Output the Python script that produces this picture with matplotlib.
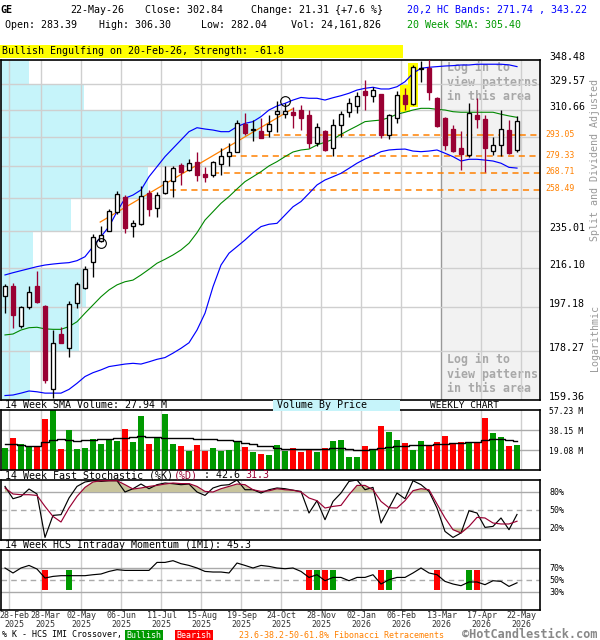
import matplotlib
matplotlib.use("Agg")
import matplotlib.pyplot as plt
from matplotlib import transforms
from matplotlib.patches import Rectangle
from matplotlib.ticker import NullLocator
import numpy as np

# weekly candles, 28-Feb-2025 .. 22-May-2026
opens = [202.6, 207.2, 189.1, 197.3, 207.2, 197.9, 163.3, 185.5, 179.5, 199.4,
         206.1, 219.1, 229.9, 235.3, 245.8, 254.4, 237.8, 238.9, 256.4, 247.7,
         256.4, 263.6, 273.7, 270.5, 275.8, 268.1, 267.5, 274.3, 279.6, 282.2,
         300.6, 296.4, 296.0, 296.2, 307.8, 307.8, 309.2, 310.6, 307.1, 287.7,
         296.0, 284.8, 300.1, 309.4, 313.5, 324.5, 320.8, 322.0, 293.3, 304.7,
         321.5, 314.7, 341.5, 342.4, 319.5, 304.7, 297.3, 284.4, 280.1, 307.1,
         304.2, 282.8, 286.6, 296.4, 283.39]
highs = [208.1, 208.8, 197.9, 207.2, 214.6, 198.5, 187.2, 188.7, 200.3, 209.2,
         216.9, 233.5, 237.8, 247.3, 257.8, 255.4, 241.1, 260.8, 258.4, 257.4,
         273.1, 273.1, 274.8, 277.5, 282.2, 272.6, 276.2, 284.4, 287.7, 303.5,
         308.3, 303.5, 304.7, 307.1, 317.3, 315.9, 312.8, 314.2, 310.6, 301.2,
         296.6, 304.0, 309.9, 319.1, 324.0, 332.8, 327.7, 322.5, 307.6, 324.5,
         327.0, 344.5, 347.7, 352.0, 320.0, 305.9, 300.1, 296.0, 315.4, 319.5,
         307.1, 292.1, 310.6, 303.5, 306.30]
lows = [194.8, 188.0, 188.0, 196.4, 199.4, 165.6, 160.1, 181.7, 176.1, 196.8,
        205.6, 211.4, 229.2, 235.0, 244.5, 233.9, 232.1, 238.5, 243.4, 243.0,
        256.0, 254.4, 261.4, 270.2, 264.0, 263.4, 266.4, 267.5, 273.1, 281.8,
        293.3, 289.4, 291.2, 292.1, 295.5, 304.7, 297.8, 296.6, 284.4, 286.1,
        282.6, 279.6, 292.1, 305.9, 308.3, 310.6, 316.2, 291.0, 290.6, 301.2,
        310.6, 314.2, 331.5, 317.8, 298.9, 283.3, 281.8, 270.5, 279.0, 297.8,
        269.1, 280.1, 279.6, 280.7, 282.04]
closes = [207.2, 193.8, 197.5, 204.2, 199.7, 166.9, 181.6, 181.8, 198.8, 208.1,
          215.4, 232.1, 232.8, 246.2, 255.8, 236.6, 239.3, 254.8, 247.2, 255.4,
          263.8, 272.0, 269.5, 275.1, 267.5, 266.4, 275.6, 279.4, 282.0, 301.2,
          294.8, 297.1, 291.4, 300.8, 310.1, 310.1, 307.1, 304.7, 287.7, 298.5,
          283.3, 300.1, 307.6, 315.4, 320.8, 321.5, 325.2, 293.3, 307.1, 321.5,
          314.7, 343.2, 342.2, 323.5, 299.6, 286.6, 282.6, 280.7, 308.3, 304.0,
          284.8, 286.6, 297.1, 281.53, 302.84]

upper_band = [212.5, 213.6, 214.6, 215.6, 216.6, 217.4, 217.9, 218.3, 218.6, 219.6,
              221.6, 226.8, 232.1, 237.5, 245.8, 253.5, 255.4, 258.4, 266.4, 272.6,
              279.0, 284.4, 289.9, 295.5, 298.2, 297.3, 296.6, 295.5, 295.5, 298.9,
              301.2, 302.4, 305.9, 310.6, 313.5, 315.4, 317.8, 319.7, 319.1, 319.1,
              317.8, 319.5, 321.0, 322.8, 325.2, 326.5, 327.3, 326.0, 326.0, 327.7,
              331.5, 338.0, 341.9, 342.7, 343.2, 343.7, 344.0, 344.5, 344.5, 345.1,
              345.1, 345.1, 345.1, 344.6, 343.22]
sma20 = [185.1, 185.5, 187.2, 188.2, 188.4, 187.7, 187.5, 187.5, 188.7, 190.8,
         194.6, 198.3, 202.1, 205.3, 207.7, 209.2, 210.0, 212.5, 215.3, 218.3,
         220.3, 222.5, 225.1, 228.6, 234.2, 241.1, 245.8, 250.6, 254.5, 259.0,
         263.4, 266.4, 269.5, 273.1, 275.8, 279.0, 282.0, 283.3, 283.9, 286.6,
         288.4, 290.3, 293.7, 296.6, 299.4, 302.4, 303.0, 303.5, 305.2, 307.6,
         309.0, 310.6, 311.8, 311.8, 311.1, 310.6, 309.4, 309.0, 309.0, 309.0,
         309.0, 309.0, 307.6, 306.4, 305.40]
lower_band = [161.0, 161.2, 161.9, 162.7, 162.4, 161.9, 161.9, 161.9, 163.3, 165.6,
              168.2, 169.7, 170.8, 172.1, 172.6, 173.1, 173.4, 173.1, 174.0, 175.0,
              175.7, 177.5, 179.5, 181.8, 187.2, 194.6, 206.8, 217.4, 223.4, 226.8,
              230.3, 234.2, 237.5, 238.8, 239.3, 243.9, 248.6, 251.6, 256.4, 261.4,
              264.4, 266.4, 268.5, 271.6, 274.8, 277.5, 279.6, 282.2, 283.3, 283.7,
              283.9, 282.6, 282.2, 282.6, 283.3, 281.2, 279.0, 276.2, 277.3, 277.3,
              276.8, 276.2, 274.8, 272.2, 271.74]

# volume in millions
volumes = [21.3, 30.8, 24.5, 23.2, 22.3, 48.3, 57.2, 20.3, 38.2, 20.3,
           21.3, 29.9, 25.1, 29.3, 28.0, 39.4, 26.7, 51.8, 25.1, 30.8,
           53.4, 25.1, 23.2, 18.4, 23.9, 18.4, 21.3, 18.4, 19.4, 28.0,
           22.3, 17.5, 15.6, 14.3, 24.1, 18.4, 21.0, 16.9, 19.7, 16.9,
           20.7, 27.7, 28.6, 12.4, 12.4, 22.9, 19.1, 42.0, 36.3, 28.6,
           25.8, 19.1, 27.7, 22.9, 26.7, 32.4, 25.8, 26.4, 25.8, 26.7,
           49.6, 35.0, 31.5, 22.9, 24.161826]
vol_sma = [24.5, 24.8, 23.9, 22.9, 22.9, 26.4, 28.6, 29.3, 28.6, 28.0,
           28.6, 28.6, 29.3, 29.9, 30.2, 30.2, 31.5, 32.1, 31.8, 31.2,
           30.8, 30.8, 30.8, 30.2, 29.9, 29.9, 29.6, 28.9, 28.3, 27.7,
           26.0, 24.5, 23.2, 22.9, 21.3, 20.0, 20.0, 19.7, 19.7, 20.0,
           20.0, 20.7, 20.7, 19.7, 19.1, 19.1, 19.7, 21.3, 22.2, 22.9,
           23.2, 23.9, 23.9, 23.9, 24.5, 24.8, 25.5, 26.0, 27.0, 27.0,
           28.6, 29.3, 29.3, 28.6, 27.94]

stoch_k = [89.3, 68.8, 72.7, 85.0, 76.7, 4.3, 41.0, 42.2, 70.0, 89.3,
           96.7, 98.8, 97.7, 98.8, 98.8, 80.0, 85.5, 93.3, 85.5, 92.2,
           95.0, 93.8, 92.2, 93.3, 80.0, 74.3, 86.7, 91.0, 92.2, 100.0,
           83.8, 83.8, 78.3, 83.8, 86.7, 85.5, 83.0, 81.0, 45.0, 65.5,
           33.8, 64.3, 78.3, 97.7, 100.0, 83.8, 87.7, 28.3, 53.3, 78.3,
           68.8, 98.8, 92.2, 81.0, 53.3, 14.3, 4.3, 11.7, 48.8, 45.0,
           21.0, 22.7, 36.7, 17.2, 42.6]
stoch_d = [86.7, 76.7, 75.5, 75.5, 74.3, 56.0, 39.3, 30.0, 53.3, 72.7,
           87.7, 96.7, 98.8, 98.8, 98.8, 92.2, 85.0, 86.7, 89.3, 91.0,
           93.3, 95.0, 94.0, 94.0, 89.3, 81.0, 80.0, 85.5, 89.3, 93.3,
           92.2, 83.8, 81.0, 82.0, 85.5, 83.8, 83.0, 80.0, 70.0, 65.5,
           53.3, 56.0, 57.7, 75.5, 91.0, 91.0, 83.8, 64.3, 53.8, 53.3,
           65.5, 82.2, 85.5, 83.8, 60.0, 36.7, 17.2, 11.7, 22.7, 37.7,
           36.7, 28.3, 26.7, 26.7, 31.3]
imi = [70.0, 61.7, 70.0, 74.3, 68.3, 53.3, 56.0, 57.2, 57.2, 57.2,
       57.2, 58.8, 60.0, 64.3, 67.2, 66.0, 66.0, 66.0, 66.0, 79.3,
       79.3, 82.2, 77.2, 74.3, 70.0, 64.3, 63.3, 63.3, 61.7, 78.3,
       74.3, 70.0, 74.3, 72.7, 70.0, 68.8, 70.0, 64.3, 54.3, 58.8,
       48.8, 54.3, 54.3, 48.8, 54.3, 54.3, 58.8, 43.3, 50.5, 54.3,
       54.3, 61.7, 70.0, 61.7, 58.8, 47.7, 43.3, 40.5, 46.7, 46.7,
       42.2, 48.8, 47.7, 39.3, 45.3]
imi_bull = [8, 39, 41, 48, 58]
imi_bear = [5, 38, 40, 47, 54, 59]

price_grid = [159.36, 178.27, 197.18, 216.10, 235.01, 253.92, 272.83, 291.74, 310.66, 329.57, 348.48]
vbp_pct = [2.9, 7.8, 8.5, 3.2, 7.0, 14.7, 18.9, 26.0, 8.3, 2.8]   # volume by price, bottom to top
fib_levels = [293.05, 279.33, 268.71, 258.49]
fib_start = [32.25, 28.1, 26.0, 20.6]
trend_idx = [11.9, 35.9]
trend_px = [240.0, 311.3]
circle_idx = [12, 35]
circle_px = [228.6, 317.1]
pattern_idx = [50, 51]
vol_grid = [19.08, 38.15, 57.23]

tick_idx = [0, 4, 9, 14, 19, 24, 29, 34, 39, 44, 49, 54, 59, 64]
tick_day = ['28-Feb', '28-Mar', '02-May', '06-Jun', '11-Jul', '15-Aug', '19-Sep',
            '24-Oct', '28-Nov', '02-Jan', '06-Feb', '13-Mar', '17-Apr', '22-May']
tick_year = ['2025', '2025', '2025', '2025', '2025', '2025', '2025',
             '2025', '2025', '2026', '2026', '2026', '2026', '2026']

RED = '#990033'
ORANGE = '#ff8000'
GRID = '#cfcfcf'
W, H = 600, 640

plt.rcParams['font.family'] = ['DejaVu Sans Mono', 'DejaVu Sans']
fig = plt.figure(figsize=(6, 6.4), dpi=100)


def box(x0, y0, x1, y1):
    return [x0 / W, 1 - y1 / H, (x1 - x0) / W, (y1 - y0) / H]


def ftext(x, y, s, **kw):
    kw.setdefault('va', 'center')
    kw.setdefault('fontsize', 7.2)
    return fig.text(x / W, 1 - y / H, s, **kw)


n = len(closes)
xs = np.arange(n)
XL = (-0.5625, 66.875)
grid_x = [i + 0.45 for i in tick_idx]
up = [c >= o for o, c in zip(opens, closes)]

ax_p = fig.add_axes(box(0.5, 60, 540, 400))
ax_v = fig.add_axes(box(0.5, 410, 540, 470))
ax_s = fig.add_axes(box(0.5, 480, 540, 540))
ax_i = fig.add_axes(box(0.5, 550, 540, 610))

for ax in (ax_p, ax_v, ax_s, ax_i):
    ax.set_xlim(*XL)
    ax.tick_params(which='both', left=False, bottom=False, labelleft=False, labelbottom=False)
    for sp in ax.spines.values():
        sp.set_linewidth(1.2)
    for gx in grid_x:
        if ax is ax_p and gx == 54.45:
            continue
        ax.axvline(gx, color=GRID, lw=1, zorder=1)

# ---- price panel ----
ax_p.set_yscale('log')
ax_p.set_ylim(price_grid[0], price_grid[-1])
ax_p.yaxis.set_major_locator(NullLocator())
ax_p.yaxis.set_minor_locator(NullLocator())
ax_p.axvspan(54.45, XL[1], color='#f2f2f2', lw=0, zorder=0.2)
ax_p.axvline(54.45, color='#999999', lw=1, zorder=1)
for v in price_grid[1:-1]:
    ax_p.axhline(v, color=GRID, lw=1, zorder=1)

tv = transforms.blended_transform_factory(ax_p.transAxes, ax_p.transData)
for lo, hi, pct in zip(price_grid[:-1], price_grid[1:], vbp_pct):
    ax_p.add_patch(Rectangle((0, lo), pct / max(vbp_pct) * 0.483, hi - lo,
                             transform=tv, facecolor='#c6f4fa', lw=0, zorder=0.5))

for s, yy in (('Log in to', 67), ('view patterns', 82), ('in this area', 97),
              ('Log in to', 359), ('view patterns', 374), ('in this area', 389)):
    ax_p.text(447 / W, 1 - yy / H, s, transform=fig.transFigure, color='#a8a8a8',
              fontsize=8.4, fontweight='bold', va='center', zorder=0.8)

for i in pattern_idx:
    lo, hi = lows[i] / 1.005, highs[i] * 1.005
    ax_p.add_patch(Rectangle((i - 0.65, lo), 1.3, hi - lo, facecolor='#ffff00', lw=0, zorder=2))

for lvl, st in zip(fib_levels, fib_start):
    ax_p.plot([st, XL[1]], [lvl, lvl], color=ORANGE, lw=1.1, dashes=(4, 3), zorder=2.5)
ax_p.plot(trend_idx, trend_px, color=ORANGE, lw=0.9, zorder=2.6)

ax_p.plot(xs, upper_band, color='#0000ff', lw=0.85, zorder=2.7)
ax_p.plot(xs, lower_band, color='#0000ff', lw=0.85, zorder=2.7)
ax_p.plot(xs, sma20, color='#008800', lw=0.8, zorder=2.7)

for i in range(n):
    col = 'black' if up[i] else RED
    ax_p.vlines(i, lows[i], highs[i], color=col, lw=0.95, zorder=3)
    b0, b1 = min(opens[i], closes[i]), max(opens[i], closes[i])
    ax_p.add_patch(Rectangle((i - 0.31, b0), 0.62, b1 - b0,
                             facecolor='white' if up[i] else RED, edgecolor=col,
                             lw=0.95, zorder=4))
ax_p.plot(circle_idx, circle_px, 'o', mfc='none', mec='black', ms=7, mew=0.8, zorder=5)

# price labels on the right
tp = transforms.offset_copy(transforms.blended_transform_factory(fig.transFigure, ax_p.transData),
                            fig=fig, y=3, units='dots')
for v in price_grid:
    if any(abs(v / f - 1) < 0.04 for f in fib_levels):
        continue
    ax_p.text(549 / W, v, f'{v:.2f}', transform=tp, fontsize=7.2, va='center', clip_on=False)
tf = transforms.offset_copy(transforms.blended_transform_factory(fig.transFigure, ax_p.transData),
                            fig=fig, y=1, units='dots')
for f in fib_levels:
    ax_p.text(545 / W, f, f'{f:.2f}', transform=tf, fontsize=5.9, color=ORANGE,
              va='center', clip_on=False)
ftext(595, 160, 'Split and Dividend Adjusted', rotation=90, ha='center', color='#999999')
ftext(595, 338, 'Logarithmic', rotation=90, ha='center', color='#999999')

# ---- volume panel ----
ax_v.set_ylim(0, vol_grid[-1])
for v in vol_grid[:-1]:
    ax_v.axhline(v, color='#aaaaaa', lw=1, zorder=1)
ax_v.bar(xs, volumes, width=0.75, color=['#009900' if u else '#ff0000' for u in up], zorder=2)
ax_v.plot(xs, vol_sma, color='black', lw=1, drawstyle='steps-mid', zorder=3)
for v in vol_grid:
    ftext(549, 470 - v / vol_grid[-1] * 60 + 1.5, f'{v:.2f} M', fontsize=5.8)

# ---- stochastic panel ----
ax_s.set_ylim(0, 100)
ax_s.axhline(80, color='#aaaaaa', lw=1, zorder=1)
ax_s.axhline(20, color='#aaaaaa', lw=1, zorder=1)
ax_s.axhline(50, color='#aaaaaa', lw=1, dashes=(4, 3), zorder=1)
d = np.array(stoch_d)
ax_s.fill_between(xs, d, 80, where=d > 80, interpolate=True, color='#c8c49c', lw=0, zorder=1.5)
ax_s.fill_between(xs, d, 20, where=d < 20, interpolate=True, color='#c8c49c', lw=0, zorder=1.5)
ax_s.plot(xs, stoch_k, color='black', lw=0.85, zorder=3)
ax_s.plot(xs, stoch_d, color=RED, lw=0.85, zorder=3)
for v in (80, 50, 20):
    ftext(549, 540.3 - 0.6 * v, f'{v}%', fontsize=6)

# ---- IMI panel ----
ax_i.set_ylim(0, 100)
ax_i.axhline(70, color='#aaaaaa', lw=1, zorder=1)
ax_i.axhline(30, color='#aaaaaa', lw=1, zorder=1)
ax_i.axhline(50, color='#aaaaaa', lw=1, dashes=(4, 3), zorder=1)
for i in imi_bull:
    ax_i.add_patch(Rectangle((i - 0.36, 33), 0.72, 34, facecolor='#009900', lw=0, zorder=2))
for i in imi_bear:
    ax_i.add_patch(Rectangle((i - 0.36, 33), 0.72, 34, facecolor='#ff0000', lw=0, zorder=2))
ax_i.plot(xs, imi, color='black', lw=0.85, zorder=3)
for v in (70, 50, 30):
    ftext(549, 610.3 - 0.6 * v, f'{v}%', fontsize=6)

# ---- date labels ----
prev = -100
for i, dd, yy in zip(tick_idx, tick_day, tick_year):
    cx = max(5 + 8 * (i + 0.6), 14.5, prev + 31)
    prev = cx
    ftext(cx, 616, dd, ha='center', fontsize=6, color='#333333')
    ftext(cx, 624.5, yy, ha='center', fontsize=6, color='#333333')

# ---- header ----
chg = closes[-1] - closes[-2]
ftext(0, 10, 'GE', fontweight='bold')
ftext(70, 10, '22-May-26')
ftext(145, 10, f'Close: {closes[-1]:.2f}')
ftext(251, 10, f'Change: {chg:.2f} {{{chg / closes[-2] * 100:+.1f} %}}')
ftext(407, 10, f'20,2 HC Bands: {lower_band[-1]:.2f} , {upper_band[-1]:.2f}', color='#0000ff')
ftext(5, 25, f'Open: {opens[-1]:.2f}')
ftext(99, 25, f'High: {highs[-1]:.2f}')
ftext(201, 25, f'Low: {lows[-1]:.2f}')
ftext(291, 25, f'Vol: {round(volumes[-1] * 1e6):,}')
ftext(407, 25, f'20 Week SMA: {sma20[-1]:.2f}', color='#009900')

fig.patches.append(Rectangle((0, 1 - 57.5 / H), 403 / W, 12.5 / H, transform=fig.transFigure,
                             facecolor='#ffff00', lw=0))
ftext(2, 51.5, 'Bullish Engulfing on 20-Feb-26, Strength: -61.8')

# ---- panel headers ----
ftext(5, 405.5, f'14 Week SMA Volume: {vol_sma[-1]:.2f} M')
fig.patches.append(Rectangle((273 / W, 1 - 410.5 / H), 127 / W, 10.5 / H, transform=fig.transFigure,
                             facecolor='#c6f4fa', lw=0))
ftext(277, 405.5, 'Volume By Price')
ftext(430, 405.5, 'WEEKLY CHART', fontsize=6.8)

parts = [('14 Week Fast Stochastic (%K)', 'black'), ('(%D)', RED),
         (f' : {stoch_k[-1]:.1f} ', 'black'), (f'{stoch_d[-1]:.1f}', RED)]
x0 = 5
for s, c in parts:
    ftext(x0, 475.5, s, color=c)
    x0 += 6.02 * len(s)
ftext(5, 545.5, f'14 Week HCS Intraday Momentum (IMI): {imi[-1]:.1f}')

# ---- footer ----
ftext(2, 635, '% K - HCS IMI Crossover,', fontsize=6)
fig.patches.append(Rectangle((125 / W, 1 - 639.5 / H), 38 / W, 9.5 / H, transform=fig.transFigure,
                             facecolor='#009900', lw=0))
ftext(144, 635, 'Bullish', ha='center', color='white', fontsize=6)
fig.patches.append(Rectangle((175 / W, 1 - 639.5 / H), 38 / W, 9.5 / H, transform=fig.transFigure,
                             facecolor='#ff0000', lw=0))
ftext(194, 635, 'Bearish', ha='center', color='white', fontsize=6)
ftext(239, 635, '23.6-38.2-50-61.8% Fibonacci Retracements', fontsize=6, color=ORANGE)
ftext(462, 634, '\u00a9HotCandlestick.com', ha='left', fontsize=8.6, fontweight='bold', color='#888888')

fig.savefig('out.png', dpi=100)
